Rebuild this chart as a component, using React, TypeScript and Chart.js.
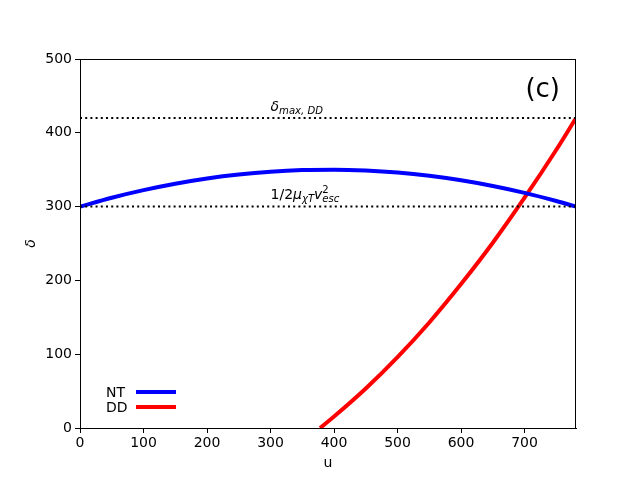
import { useEffect, useRef } from "react";
import { Chart, registerables } from "chart.js";

Chart.register(...registerables);

const U_MAX = 781;

// NT curve (blue)
const ntU = [0, 50, 100, 150, 200, 250, 300, 350, 400, 450, 500, 550, 600, 650, 700, 750, 781];
const ntDelta = [300, 312, 322.3, 331, 338.1, 343.5, 347.3, 349.5, 350, 348.8, 346.1, 341.7, 335.6, 327.9, 318.6, 307.6, 300];

// DD curve (red)
const ddU = [378, 400, 450, 500, 550, 600, 650, 700, 750, 781];
const ddDelta = [0, 15.5, 53.5, 96, 143, 195, 251, 312, 377, 420];

// horizontal reference levels
const deltaMaxDD = 420;
const halfMuV2 = 300;

const xTicks = [0, 100, 200, 300, 400, 500, 600, 700];
const yTicks = [0, 100, 200, 300, 400, 500];

const FONT = "DejaVu Sans";

type Seg = { t: string; it?: boolean; s?: number; dy?: number; back?: boolean };

function drawMath(ctx: CanvasRenderingContext2D, x: number, y: number, segs: Seg[], size: number) {
  let cx = x;
  let lastW = 0;
  for (const sg of segs) {
    const fs = size * (sg.s ?? 1);
    ctx.font = `${sg.it ? "italic " : ""}${fs}px "${FONT}"`;
    if (sg.back) cx -= lastW;
    ctx.fillText(sg.t, cx, y + (sg.dy ?? 0));
    const w = ctx.measureText(sg.t).width;
    if (sg.back) {
      cx += Math.max(w, lastW);
    } else {
      cx += w;
    }
    lastW = w;
  }
}

const overlay = {
  id: "overlay",
  afterDraw(chart: Chart) {
    const { ctx, chartArea: a, scales } = chart;
    const xs = scales.x;
    const ys = scales.y;
    ctx.save();
    // axes frame
    ctx.strokeStyle = "#000";
    ctx.lineWidth = 1;
    ctx.strokeRect(a.left + 0.5, a.top + 0.5, a.right - a.left - 1, a.bottom - a.top);

    ctx.fillStyle = "#000";
    ctx.textBaseline = "alphabetic";
    ctx.textAlign = "left";

    // annotations
    drawMath(ctx, xs.getPixelForValue(300), ys.getPixelForValue(430), [
      { t: "δ", it: true },
      { t: "max, DD", it: true, s: 0.72, dy: 3 },
    ], 14);
    drawMath(ctx, xs.getPixelForValue(300), ys.getPixelForValue(310), [
      { t: "1/2" },
      { t: "μ", it: true },
      { t: "χT", it: true, s: 0.72, dy: 3 },
      { t: "v", it: true },
      { t: "2", s: 0.72, dy: -6 },
      { t: "esc", it: true, s: 0.72, dy: 3, back: true },
    ], 14);

    // panel label
    ctx.font = `26px "${FONT}"`;
    ctx.fillText("(c)", a.left + 0.9 * (a.right - a.left) - 1, a.top + 0.1 * (a.bottom - a.top) + 1);

    // legend
    ctx.font = `14px "${FONT}"`;
    ctx.textBaseline = "middle";
    const items: [string, string, number][] = [
      ["NT", "#0000ff", 392],
      ["DD", "#ff0000", 407],
    ];
    for (const [lab, col, yy] of items) {
      ctx.fillStyle = "#000";
      ctx.fillText(lab, 106, yy + 1);
      ctx.strokeStyle = col;
      ctx.lineWidth = 4;
      ctx.beginPath();
      ctx.moveTo(136, yy);
      ctx.lineTo(176, yy);
      ctx.stroke();
    }

    // axis titles
    ctx.fillStyle = "#000";
    ctx.textAlign = "center";
    ctx.textBaseline = "alphabetic";
    ctx.font = `14px "${FONT}"`;
    ctx.fillText("u", (a.left + a.right) / 2, 467);
    ctx.translate(35, (a.top + a.bottom) / 2);
    ctx.rotate(-Math.PI / 2);
    ctx.font = `italic 14px "${FONT}"`;
    ctx.fillText("δ", 0, 0);
    ctx.restore();
  },
};

export default function App() {
  const canvasRef = useRef<HTMLCanvasElement>(null);
  const chartRef = useRef<Chart | null>(null);

  useEffect(() => {
    if (!canvasRef.current) return;

    const dotted = (v: number) => ({
      data: [
        { x: 0, y: v },
        { x: U_MAX, y: v },
      ],
      borderColor: "#000",
      borderWidth: 2,
      borderDash: [2, 3.2],
      pointRadius: 0,
    });

    chartRef.current?.destroy();
    chartRef.current = new Chart(canvasRef.current, {
      type: "line",
      data: {
        datasets: [
          dotted(deltaMaxDD),
          dotted(halfMuV2),
          {
            label: "NT",
            data: ntU.map((u, i) => ({ x: u, y: ntDelta[i] })),
            borderColor: "#0000ff",
            borderWidth: 4,
            pointRadius: 0,
            cubicInterpolationMode: "monotone",
          },
          {
            label: "DD",
            data: ddU.map((u, i) => ({ x: u, y: ddDelta[i] })),
            borderColor: "#ff0000",
            borderWidth: 4,
            pointRadius: 0,
            cubicInterpolationMode: "monotone",
          },
        ],
      },
      options: {
        animation: false,
        responsive: false,
        devicePixelRatio: 1,
        layout: { padding: { left: 0, top: 59, right: 64, bottom: 0 } },
        plugins: { legend: { display: false }, tooltip: { enabled: false } },
        scales: {
          x: {
            type: "linear",
            min: 0,
            max: U_MAX,
            afterFit: (s: any) => {
              s.height = 52;
            },
            afterBuildTicks: (s: any) => {
              s.ticks = xTicks.map((v) => ({ value: v }));
            },
            grid: { display: true, drawOnChartArea: false, drawTicks: true, tickLength: 5, color: "#000" },
            border: { display: true, color: "#000", width: 1 },
            ticks: { color: "#000", font: { family: FONT, size: 14 }, padding: 2, maxRotation: 0 },
          },
          y: {
            min: 0,
            max: 500,
            afterFit: (s: any) => {
              s.width = 80;
            },
            afterBuildTicks: (s: any) => {
              s.ticks = yTicks.map((v) => ({ value: v }));
            },
            grid: { display: true, drawOnChartArea: false, drawTicks: true, tickLength: 5, color: "#000" },
            border: { display: true, color: "#000", width: 1 },
            ticks: { color: "#000", font: { family: FONT, size: 14 }, padding: 3 },
          },
        },
      },
      plugins: [overlay],
    });

    return () => {
      chartRef.current?.destroy();
    };
  }, []);

  return (
    <div style={{ position: "fixed", left: 0, top: 0, width: 640, height: 480, background: "#fff" }}>
      <canvas ref={canvasRef} width={640} height={480} />
    </div>
  );
}
